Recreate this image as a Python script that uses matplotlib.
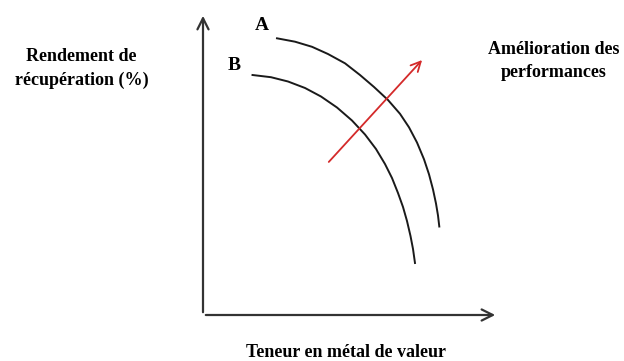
import matplotlib.pyplot as plt

courbe_a_x = [25.08, 31.19, 36.95, 42.37, 48.14, 53.22, 57.97, 62.71, 66.78,
              69.83, 72.54, 74.92, 76.61, 77.97, 78.98, 79.66, 80.10]
courbe_a_y = [91.62, 90.50, 88.81, 86.42, 83.34, 79.47, 75.50, 71.19, 66.62,
              62.15, 57.12, 51.56, 46.59, 41.56, 36.92, 32.95, 29.30]
courbe_b_x = [16.78, 23.05, 28.81, 34.58, 40.00, 45.42, 50.51, 54.92, 58.64,
              61.69, 64.07, 66.10, 67.80, 69.15, 70.34, 71.19, 71.86]
courbe_b_y = [79.47, 78.74, 77.32, 75.17, 72.35, 68.71, 64.40, 59.77, 54.97,
              50.00, 45.36, 40.40, 35.76, 31.13, 26.16, 21.85, 17.22]
fleche_depart = (42.0, 50.0)
fleche_fin = (74.9, 85.1)

plt.rcParams['font.family'] = ['Liberation Serif', 'DejaVu Serif']

fig = plt.figure(figsize=(6.24, 3.61), dpi=100)
ax = fig.add_axes([203 / 624, 46 / 361, 295 / 624, 302 / 361])
ax.set_xlim(0, 100)
ax.set_ylim(0, 100)
ax.axis('off')

# axes avec flèches
style_axe = dict(arrowstyle='->,head_length=0.8,head_width=0.4', color='#333333', lw=1.6)
ax.annotate('', xy=(1, 0), xytext=(0, 0), xycoords='axes fraction', arrowprops=style_axe)
ax.annotate('', xy=(0, 1), xytext=(0, 0), xycoords='axes fraction', arrowprops=style_axe)

ax.plot(courbe_a_x, courbe_a_y, color='#1a1a1a', lw=1.4, solid_joinstyle='round')
ax.plot(courbe_b_x, courbe_b_y, color='#1a1a1a', lw=1.4, solid_joinstyle='round')

ax.annotate('', xy=fleche_fin, xytext=fleche_depart,
            arrowprops=dict(arrowstyle='->,head_length=0.7,head_width=0.35', color='#d42a2a', lw=1.3))

ax.text(20.0, 96.0, 'A', fontsize=14, fontweight='bold', ha='center', va='center')
ax.text(10.5, 82.5, 'B', fontsize=14, fontweight='bold', ha='center', va='center')

fig.text(0.131, 0.810, 'Rendement de\nrécupération (%)', fontsize=13, fontweight='bold',
         ha='center', va='center', linespacing=1.5)
fig.text(0.887, 0.830, 'Amélioration des\nperformances', fontsize=13, fontweight='bold',
         ha='center', va='center', linespacing=1.45)
fig.text(0.555, 0.024, 'Teneur en métal de valeur', fontsize=13, fontweight='bold',
         ha='center', va='center')

fig.savefig('out.png', dpi=100)
